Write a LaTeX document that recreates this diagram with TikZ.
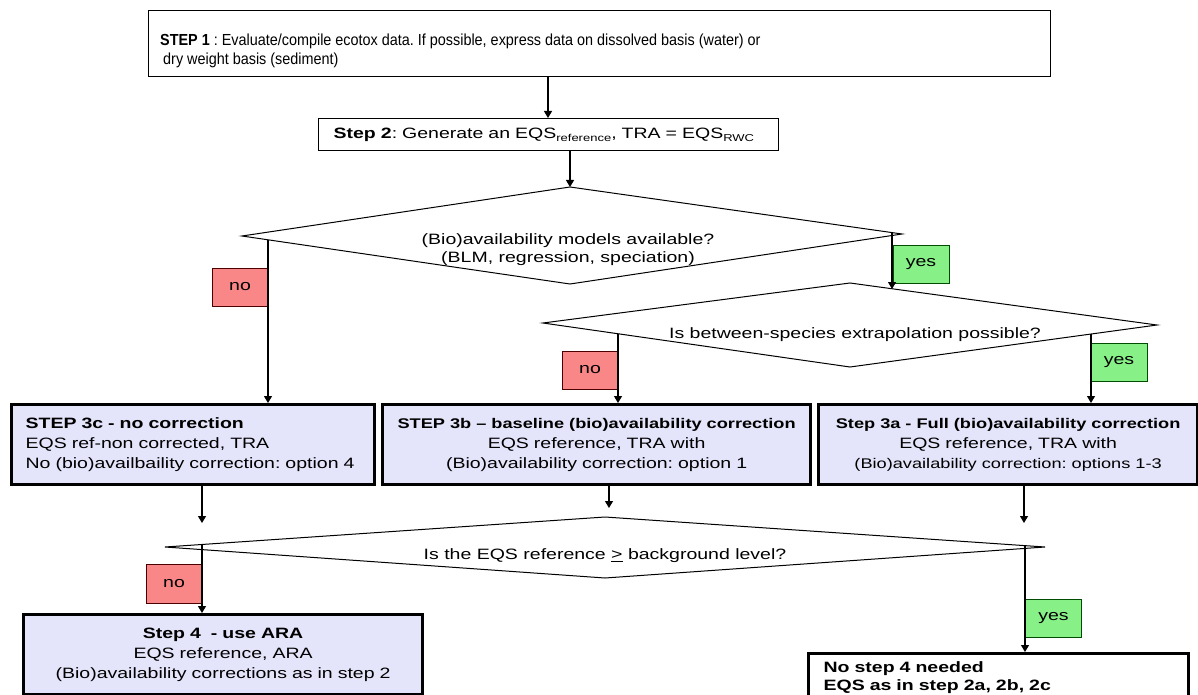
\documentclass[tikz,border=0pt]{standalone}
\usepackage{fontspec}
\setmainfont{Liberation Sans}[FakeStretch=1.3]
\newfontfamily\narrowsans{Liberation Sans}[FakeStretch=0.9]
\usetikzlibrary{arrows.meta}
\definecolor{lav}{RGB}{228,228,250}
\definecolor{nored}{RGB}{250,135,135}
\definecolor{yesgreen}{RGB}{135,240,135}
\newcommand{\sbs}[1]{\raisebox{-3pt}{\fontsize{10}{10}\selectfont #1}}
\frenchspacing
\begin{document}
\begin{tikzpicture}[x=1pt,y=-1pt,
  font=\fontsize{15}{20}\selectfont,
  plainbox/.style={draw=black, line width=1.3pt, fill=white, inner ysep=0pt, anchor=north west},
  thickbox/.style={draw=black, line width=3.2pt, fill=lav, inner ysep=0pt, anchor=north west},
  nolab/.style={draw=black!70!red, line width=0.8pt, fill=nored, minimum width=56pt, minimum height=38pt, inner sep=0pt},
  yeslab/.style={draw=black!70!green, line width=0.8pt, fill=yesgreen, minimum width=56pt, minimum height=38pt, inner sep=0pt},
  dia/.style={draw=black, line width=1pt},
  arr/.style={draw=black, line width=1.1pt, -{Triangle[width=8pt,length=7pt]}},
  ln/.style={draw=black, line width=1.1pt}]
\useasboundingbox (0,0) rectangle (1198,695);

% Step 1 and 2
\node[plainbox, minimum width=902pt, minimum height=66pt] (s1) at (148,10) {};
\node[anchor=west, align=left, inner sep=0pt, font=\narrowsans\fontsize{16}{19}\selectfont] (s1txt) at (160,51)
  {\textbf{STEP 1} : Evaluate/compile ecotox data. If possible, express data on dissolved basis (water) or\\ \hspace{3pt}dry weight basis (sediment)};
\node[plainbox, minimum width=460pt, minimum height=32pt, inner xsep=15pt, text width=430pt, align=left] (s2) at (318,118)
  {\textbf{Step 2}: Generate an EQS\sbs{reference}, TRA = EQS\sbs{RWC}};

% Diamond 1
\coordinate (d1t) at (570,187);
\coordinate (d1l) at (242,236);
\coordinate (d1r) at (902,234);
\coordinate (d1b) at (570,284);
\draw[dia] (d1t) -- (d1r) -- (d1b) -- (d1l) -- cycle;
\node[align=center, inner sep=0pt, font=\fontsize{15}{18}\selectfont] (d1txt) at (568,250) {(Bio)availability models available?\\(BLM, regression, speciation)};

% Diamond 2
\coordinate (d2t) at (850,283);
\coordinate (d2l) at (543,323);
\coordinate (d2r) at (1157,325);
\coordinate (d2b) at (850,367);
\draw[dia] (d2t) -- (d2r) -- (d2b) -- (d2l) -- cycle;
\node[inner sep=0pt] (d2txt) at (855,335) {Is between-species extrapolation possible?};

% Step 3 boxes
\node[thickbox, minimum width=363pt, minimum height=80pt, inner xsep=14pt, text width=335pt, align=left] (s3c) at (10,403)
  {\textbf{STEP 3c - no correction}\\EQS ref-non corrected, TRA\\No (bio)availbaility correction: option 4};
\node[thickbox, minimum width=428pt, minimum height=80pt, inner xsep=4pt, text width=420pt, align=center] (s3b) at (381,403)
  {{\fontsize{14}{20}\selectfont\textbf{STEP 3b – baseline (bio)availability correction}}\\EQS reference, TRA with\\(Bio)availability correction: option 1};
\node[thickbox, minimum width=379pt, minimum height=80pt, inner xsep=4pt, text width=371pt, align=center] (s3a) at (817,403)
  {{\fontsize{14}{19}\selectfont\textbf{Step 3a - Full (bio)availability correction}}\\EQS reference, TRA with\\{\fontsize{14}{18}\selectfont(Bio)availability correction: options 1-3}};

% Diamond 3
\coordinate (d3t) at (605,517);
\coordinate (d3l) at (165,547);
\coordinate (d3r) at (1045,547);
\coordinate (d3b) at (605,578);
\draw[dia] (d3t) -- (d3r) -- (d3b) -- (d3l) -- cycle;
\node[inner sep=0pt] (d3txt) at (605,556) {Is the EQS reference \underline{>} background level?};

% Step 4 boxes
\node[thickbox, minimum width=399pt, minimum height=80pt, inner xsep=4pt, text width=391pt, align=center] (s4) at (22,613)
  {\textbf{Step 4 \ - use ARA}\\EQS reference, ARA\\(Bio)availability corrections as in step 2};
\node[plainbox, line width=3.2pt, minimum width=380pt, minimum height=48pt, inner xsep=15pt, text width=350pt, align=left, font=\fontsize{15}{18}\selectfont\bfseries] (s5) at (807,652)
  {No step 4 needed\\EQS as in step 2a, 2b, 2c};

% labels
\node[nolab] (no1) at (240,287) {no};
\node[yeslab] (yes1) at (921,264.5) {yes};
\node[nolab] (no2) at (590,370) {no};
\node[yeslab] (yes2) at (1119,362) {yes};
\node[nolab, minimum height=39pt] (no3) at (174,583.5) {no};
\node[yeslab] (yes3) at (1053.5,618) {yes};

% connector helper coordinates
\coordinate (c1) at (548,0);
\coordinate (d1no) at (268,240);
\coordinate (d1yes) at (892,233);
\coordinate (d2in) at (892,289);
\coordinate (d2no) at (618,334);
\coordinate (d2yes) at (1091,334);
\coordinate (e3c) at (202,523);
\coordinate (e3b) at (609,508);
\coordinate (e3a) at (1024,523);
\coordinate (d3no) at (202,545);
\coordinate (d3yes) at (1025,545);

% connectors
\draw[arr] (s1.south -| c1) -- (s2.north -| c1);
\draw[arr] (s2.south -| d1t) -- (d1t);
\draw[arr] (d1no) -- (s3c.north -| d1no);
\draw[arr] (d1yes) -- (d2in);
\draw[arr] (d2no) -- (s3b.north -| d2no);
\draw[arr] (d2yes) -- (s3a.north -| d2yes);
\draw[arr] (s3c.south -| e3c) -- (e3c);
\draw[arr] (s3b.south -| e3b) -- (e3b);
\draw[arr] (s3a.south -| e3a) -- (e3a);
\draw[arr] (d3no) -- (s4.north -| d3no);
\draw[arr] (d3yes) -- (s5.north -| d3yes);
\end{tikzpicture}
\end{document}
